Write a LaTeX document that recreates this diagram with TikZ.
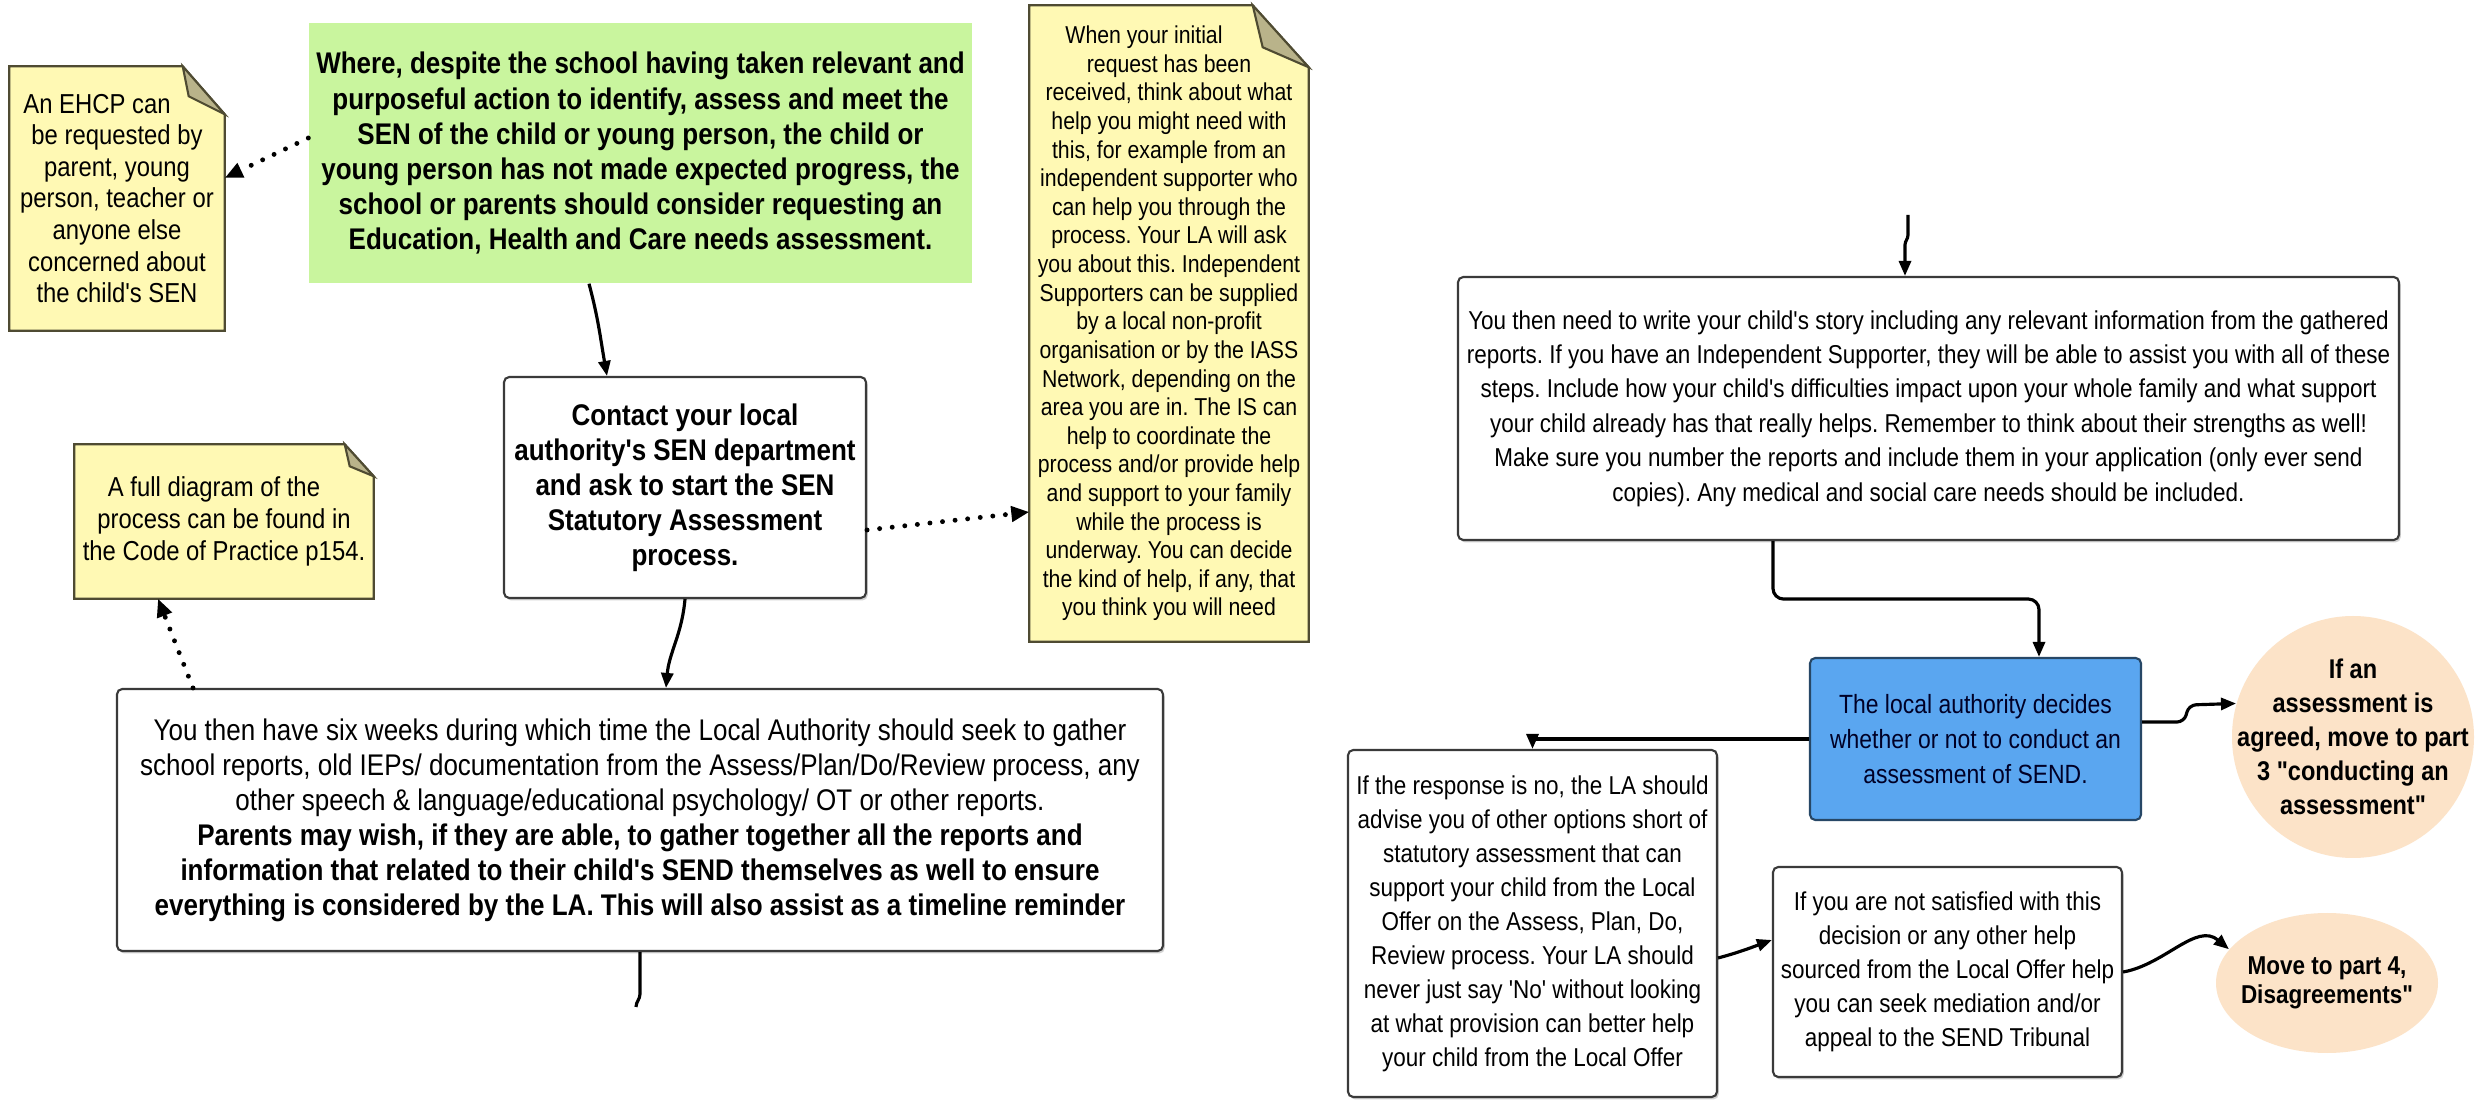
\documentclass[tikz,border=0pt]{standalone}
\usepackage{fontspec}
\setmainfont{Liberation Sans}[FakeStretch=0.87, Ligatures=TeXOff]
\usetikzlibrary{arrows.meta,shapes.geometric,shadows,backgrounds}
\definecolor{notefill}{HTML}{FFF9B4}
\definecolor{noteline}{HTML}{4F4B32}
\definecolor{foldfill}{HTML}{B9B38A}
\definecolor{greenfill}{HTML}{C9F59E}
\definecolor{bluefill}{HTML}{5AA6F0}
\definecolor{blueline}{HTML}{274766}
\definecolor{peachfill}{HTML}{FCE3C8}
\definecolor{boxline}{HTML}{3A3A3A}
\frenchspacing

\begin{document}
\begin{tikzpicture}[
        flowbox/.style={rectangle, rounded corners=1.5pt, draw=boxline, line width=0.6pt, fill=white, align=center, inner sep=0pt,
            drop shadow={shadow xshift=0.5pt, shadow yshift=-0.7pt, opacity=0.35}},
        stickynote/.style={rectangle, align=center, inner sep=0pt},
        greenbox/.style={rectangle, fill=greenfill, align=center, inner sep=0pt},
        bluebox/.style={rectangle, rounded corners=1.5pt, draw=blueline, line width=0.6pt, fill=bluefill, align=center, inner sep=0pt, text=blue!15!black},
        bubble/.style={ellipse, fill=peachfill, align=center, inner sep=-0.3cm},
        flow/.style={line width=0.9pt, -{Triangle[length=1.5mm, width=1.2mm]}},
        hint/.style={line width=1.4pt, line cap=round, dash pattern=on 0pt off 3.6pt, -{Triangle[length=1.8mm, width=1.5mm]}}
    ]
        \useasboundingbox(0, 0) rectangle (24.84, 11.02);

        \node[stickynote, minimum width=2.14cm, minimum height=2.63cm, font=\fontsize{7.8}{9}\selectfont] (ehcp) at(1.17, 9.035){An EHCP can\hspace*{0.4cm}\\be requested by\hspace*{0.2cm}\\parent, young\\person, teacher or\\anyone else\\concerned about\\the child's SEN};
        \node[greenbox, minimum width=6.63cm, minimum height=2.6cm, font=\fontsize{8.5}{9.96}\selectfont\bfseries] (request) at(6.405, 9.49){Where, despite the school having taken relevant and\\purposeful action to identify, assess and meet the\\SEN of the child or young person, the child or\\young person has not made expected progress, the\\school or parents should consider requesting an\\Education, Health and Care needs assessment.};
        \node[stickynote, minimum width=2.78cm, minimum height=6.35cm, font=\fontsize{6.95}{8.14}\selectfont] (iass) at(11.69, 7.785){When your initial\hspace*{0.5cm}\\request has been\hspace*{0.45cm}\\received, think about what\\help you might need with\\this, for example from an\\independent supporter who\\can help you through the\\process. Your LA will ask\\you about this. Independent\\Supporters can be supplied\\by a local non-profit\\organisation or by the IASS\\Network, depending on the\\area you are in. The IS can\\help to coordinate the\\process and/or provide help\\and support to your family\\while the process is\\underway. You can decide\\the kind of help, if any, that\\you think you will need};
        \node[flowbox, minimum width=3.62cm, minimum height=2.21cm, font=\fontsize{8.5}{9.96}\selectfont\bfseries] (contact) at(6.85, 6.145){Contact your local\\authority's SEN department\\and ask to start the SEN\\Statutory Assessment\\process.};
        \node[stickynote, minimum width=2.98cm, minimum height=1.53cm, font=\fontsize{7.8}{9}\selectfont] (codenote) at(2.24, 5.805){A full diagram of the\hspace*{0.2cm}\\process can be found in\\the Code of Practice p154.};
        \node[flowbox, minimum width=10.46cm, minimum height=2.62cm, font=\fontsize{8.5}{9.96}\selectfont] (sixweeks) at(6.4, 2.82){You then have six weeks during which time the Local Authority should seek to gather\\school reports, old IEPs/ documentation from the Assess/Plan/Do/Review process, any\\other speech \& language/educational psychology/ OT or other reports.\\\textbf{Parents may wish, if they are able, to gather together all the reports and}\\\textbf{information that related to their child's SEND themselves as well to ensure}\\\textbf{everything is considered by the LA. This will also assist as a timeline reminder}};

        \node[flowbox, minimum width=9.41cm, minimum height=2.63cm, font=\fontsize{7.35}{9.8}\selectfont] (story) at(19.285, 6.935){You then need to write your child's story including any relevant information from the gathered\\reports. If you have an Independent Supporter, they will be able to assist you with all of these\\steps. Include how your child's difficulties impact upon your whole family and what support\\your child already has that really helps. Remember to think about their strengths as well!\\Make sure you number the reports and include them in your application (only ever send\\copies). Any medical and social care needs should be included.};
        \node[bluebox, minimum width=3.31cm, minimum height=1.62cm, font=\fontsize{7.5}{9.96}\selectfont] (decide) at(19.755, 3.63){The local authority decides\\whether or not to conduct an\\assessment of SEND.};
        \node[bubble, minimum width=2.42cm, minimum height=2.42cm, inner sep=-0.4cm, font=\fontsize{7.7}{9.67}\selectfont\bfseries] (agreed) at(23.53, 3.65){If an\\assessment is\\agreed, move to part\\3 "conducting an\\assessment"};
        \node[flowbox, minimum width=3.69cm, minimum height=3.47cm, font=\fontsize{7.35}{9.67}\selectfont] (refused) at(15.325, 1.785){If the response is no, the LA should\\advise you of other options short of\\statutory assessment that can\\support your child from the Local\\Offer on the Assess, Plan, Do,\\Review process. Your LA should\\never just say 'No' without looking\\at what provision can better help\\your child from the Local Offer};
        \node[flowbox, minimum width=3.49cm, minimum height=2.1cm, font=\fontsize{7.35}{9.67}\selectfont] (unhappy) at(19.475, 1.3){If you are not satisfied with this\\decision or any other help\\sourced from the Local Offer help\\you can seek mediation and/or\\appeal to the SEND Tribunal};
        \node[bubble, minimum width=2.22cm, minimum height=1.4cm, font=\fontsize{7.36}{8.25}\selectfont\bfseries] (disagree) at(23.27, 1.19){Move to part 4,\\Disagreements"};

        \coordinate (weeksout) at(6.36, 0.95);
        \coordinate (storyin) at(19.08, 8.87);

        \begin{scope}[on background layer]
            \fill[white](0, 0) rectangle (24.84, 11.02);
            \filldraw[fill=notefill, draw=noteline, line width=0.6pt](ehcp.north west) -- ([xshift=-0.42cm]ehcp.north east) -- ([yshift=-0.48cm]ehcp.north east) -- (ehcp.south east) -- (ehcp.south west) -- cycle;
            \filldraw[fill=foldfill, draw=noteline, line width=0.6pt]([xshift=-0.42cm]ehcp.north east) -- ([yshift=-0.48cm]ehcp.north east) -- ([xshift=-0.36cm, yshift=-0.3cm]ehcp.north east) -- cycle;
            \filldraw[fill=notefill, draw=noteline, line width=0.6pt](iass.north west) -- ([xshift=-0.56cm]iass.north east) -- ([yshift=-0.62cm]iass.north east) -- (iass.south east) -- (iass.south west) -- cycle;
            \filldraw[fill=foldfill, draw=noteline, line width=0.6pt]([xshift=-0.56cm]iass.north east) -- ([yshift=-0.62cm]iass.north east) -- ([xshift=-0.46cm, yshift=-0.42cm]iass.north east) -- cycle;
            \filldraw[fill=notefill, draw=noteline, line width=0.6pt](codenote.north west) -- ([xshift=-0.29cm]codenote.north east) -- ([yshift=-0.32cm]codenote.north east) -- (codenote.south east) -- (codenote.south west) -- cycle;
            \filldraw[fill=foldfill, draw=noteline, line width=0.6pt]([xshift=-0.29cm]codenote.north east) -- ([yshift=-0.32cm]codenote.north east) -- ([xshift=-0.24cm, yshift=-0.22cm]codenote.north east) -- cycle;
        \end{scope}

        \draw[hint]([yshift=0.15cm]request.west) to (ehcp.east |- 0, 9.24);
        \draw[flow]([xshift=-0.515cm]request.south) to[out=-75, in=100] ([xshift=-0.78cm]contact.north);
        \draw[hint]([yshift=-0.425cm]contact.east) to ([yshift=-1.885cm]iass.west);
        \draw[flow](contact.south) to[out=-95, in=85] ([xshift=0.26cm]sixweeks.north);
        \draw[hint]([xshift=-4.47cm]sixweeks.north) to ([xshift=-0.66cm]codenote.south);
        \draw[line width=0.9pt](sixweeks.south) -- ++(0, -0.42) to[out=-90, in=90] (weeksout);

        \draw[flow](storyin) -- ++(0, -0.2) to[out=-90, in=90] ++(-0.03, -0.1) -- ([xshift=-0.235cm]story.north);
        \draw[flow, rounded corners=3pt]([xshift=-1.555cm]story.south) -- ++(0, -0.58) -| ([xshift=0.635cm]decide.north);
        \draw[flow, rounded corners=2pt]([yshift=0.17cm]decide.east) -- ++(0.42, 0) -- ++(0.05, 0.17) -- (agreed.164);
        \draw[flow](decide.west) -| (refused.north);
        \draw[flow]([yshift=-0.345cm]refused.east) to[out=15, in=200] ([yshift=0.32cm]unhappy.west);
        \draw[flow](unhappy.east) to[out=10, in=140] (disagree.161);

    \end{tikzpicture}
\end{document}
